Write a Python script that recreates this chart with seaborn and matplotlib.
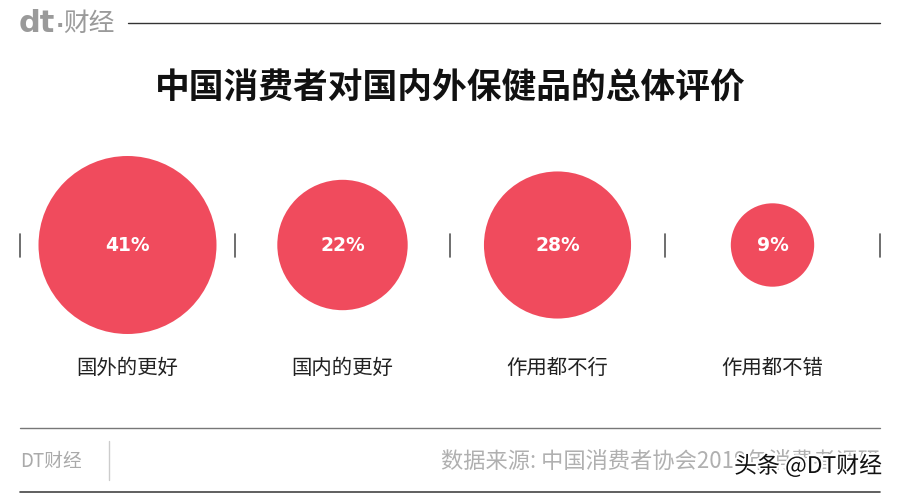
import matplotlib
matplotlib.use("Agg")
import matplotlib.pyplot as plt
import matplotlib.patheffects as pe
import seaborn as sns
import pandas as pd

categories = ["国外的更好", "国内的更好", "作用都不行", "作用都不错"]
values = [41, 22, 28, 9]
value_labels = ["41%", "22%", "28%", "9%"]
title = "中国消费者对国内外保健品的总体评价"
source = "数据来源: 中国消费者协会2019年消费者调研"

sns.set_theme(style="white")
plt.rcParams["font.family"] = ["Noto Sans CJK SC", "DejaVu Sans"]

W, H = 900, 494
fig = plt.figure(figsize=(W / 100, H / 100), dpi=100)
ax = fig.add_axes([0, 0, 1, 1])

left, step, cy = 20, 215, 245
xs = [left + step * (i + 0.5) for i in range(len(categories))]
df = pd.DataFrame({"cat": categories, "val": values, "x": xs, "y": [cy] * len(xs)})

# area proportional to value: radius 89 px for 41
r_max_pt = 89 * 0.72
s_max = (2 * r_max_pt) ** 2
sns.scatterplot(data=df, x="x", y="y", size="val", sizes=(0, s_max),
                size_norm=(0, max(values)), color="#F04B5D", linewidth=0,
                legend=False, ax=ax, zorder=2)
ax.set_xlim(0, W)
ax.set_ylim(H, 0)
ax.axis("off")

for x, lab, cat in zip(xs, value_labels, categories):
    ax.text(x, cy, lab, ha="center", va="center", color="white",
            fontsize=13.5, fontweight="bold", family=["DejaVu Sans"], zorder=3)
    ax.text(x, 368, cat, ha="center", va="center", color="#222222", fontsize=14.7)

for i in range(len(categories) + 1):
    xb = left + step * i
    ax.plot([xb, xb], [234, 257], color="#555555", lw=1.2)

# title
ax.text(450, 88, title, ha="center", va="center", fontsize=25, fontweight="bold",
        color="#111111")

# header logo & line
ax.text(19, 24, "dt", ha="left", va="center", fontsize=22, fontweight="heavy",
        color="#9a9a9a", family=["DejaVu Sans"])
ax.text(56, 31, ".", ha="left", va="bottom", fontsize=16, fontweight="heavy",
        color="#9a9a9a", family=["DejaVu Sans"])
ax.text(63, 24, "财经", ha="left", va="center", fontsize=18.5, color="#9a9a9a")
ax.plot([128, 880], [23, 23], color="#333333", lw=1)

# footer
ax.plot([20, 880], [428, 428], color="#777777", lw=1)
ax.plot([20, 880], [492, 492], color="#444444", lw=1.2)
ax.text(20, 461, "DT财经", ha="left", va="center", fontsize=13.5, color="#aaaaaa")
ax.plot([109, 109], [441, 480], color="#cccccc", lw=1)
ax.text(880, 462, source, ha="right", va="center", fontsize=16, color="#b0b0b0")
ax.text(882, 466, "头条 @DT财经", ha="right", va="center", fontsize=16.5,
        color="#111111",
        path_effects=[pe.withStroke(linewidth=3, foreground="white")])

fig.savefig("out.png", dpi=100, facecolor="white")
